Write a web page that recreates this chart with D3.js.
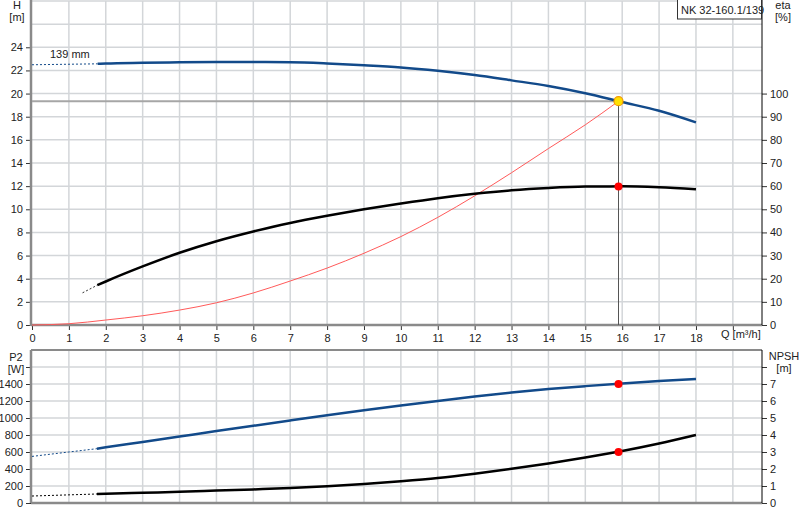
<!DOCTYPE html>
<html>
<head>
<meta charset="utf-8">
<script src="https://cdn.jsdelivr.net/npm/d3@7"></script>
<style>
    body{margin:0;background:#fff;}
    svg{display:block;font-family:"Liberation Sans",Arial,sans-serif;font-size:11px;}
    .grid line{stroke:#d3d6d9;stroke-width:1.5;}
</style>
</head>
<body>
<div id="chart"></div>
<script>
// 数据：流量 Q [m³/h]
var qTicks = [0,1,2,3,4,5,6,7,8,9,10,11,12,13,14,15,16,17,18];
var hTicks = [0,2,4,6,8,10,12,14,16,18,20,22,24];
var etaTicks = [0,10,20,30,40,50,60,70,80,90,100];
var p2Ticks = [0,200,400,600,800,1000,1200,1400];
var npshTicks = [0,1,2,3,4,5,6,7];

// 扬程曲线 H
var headFlow = [1.78,2,3,4,5,6,7,8,9,10,11,12,13,14,15,16,17,18];
var headValues = [22.57,22.6,22.66,22.7,22.72,22.72,22.7,22.6,22.45,22.26,21.97,21.6,21.14,20.66,20.03,19.27,18.51,17.51];
var headExtFlow = [0,1.78];
var headExtValues = [22.49,22.57];

// 效率曲线 eta
var etaFlow = [1.77,2,3,4,5,6,7,8,9,10,11,12,13,14,15,16,17,18];
var etaValues = [17.2,18.8,25.3,31.2,36.2,40.4,44.1,47.2,50.0,52.5,54.8,56.7,58.2,59.2,59.8,59.9,59.5,58.7];
var etaExtFlow = [1.37,1.77];
var etaExtValues = [13.9,17.2];

// 系统曲线
var systemFlow = [0,1,2,3,4,5,6,7,8,9,10,11,12,13,14,15,15.9];
var systemValues = [0,0.11,0.43,0.8,1.29,1.92,2.77,3.8,4.92,6.2,7.64,9.3,11.16,13.16,15.25,17.3,19.34];

// 功率 P2
var p2Flow = [1.76,2,3,4,5,6,7,8,9,10,11,12,13,14,15,16,17,18];
var p2Values = [639,655,718,782,846,909,971,1032,1091,1147,1201,1252,1299,1340,1375,1407,1435,1460];
var p2ExtFlow = [0,1,1.76];
var p2ExtValues = [548,600,639];

// NPSH
var npshFlow = [1.76,2,3,4,5,6,7,8,9,10,11,12,13,14,15,16,17,18];
var npshValues = [0.53,0.54,0.6,0.66,0.73,0.8,0.88,0.99,1.12,1.28,1.47,1.72,2.01,2.33,2.68,3.06,3.5,4.0];
var npshExtFlow = [0,1.76];
var npshExtValues = [0.41,0.53];

// 工作点
var opFlow = 15.9;
var opHead = 19.34;
var opEta = 59.8;
var opP2 = 1400;
var opNpsh = 3.0;

var width = 800, height = 520;
var left = 32, right = 762;
var top1 = 1, bottom1 = 325;
var top2 = 350, bottom2 = 503;
var blue = '#124a8a';

var svg = d3.select('#chart').append('svg')
    .attr('width', width)
    .attr('height', height);

var x = d3.scaleLinear().domain([0, 19.79]).range([left, right]);
var yH = d3.scaleLinear().domain([0, 28]).range([bottom1, top1]);
var yEta = d3.scaleLinear().domain([0, 140]).range([bottom1, top1]);
var yP2 = d3.scaleLinear().domain([0, 1800]).range([bottom2, top2]);
var yNpsh = d3.scaleLinear().domain([0, 9]).range([bottom2, top2]);

function pairs(xs, ys){
    return xs.map(function(d, i){ return [d, ys[i]]; });
}

//网格
function grid(yScale, yVals, y0, y1){
    var g = svg.append('g').classed('grid', true);
    g.selectAll('line.v').data(d3.range(1, 20)).enter().append('line')
        .attr('x1', function(d){ return x(d); })
        .attr('x2', function(d){ return x(d); })
        .attr('y1', y0).attr('y2', y1);
    g.selectAll('line.h').data(yVals).enter().append('line')
        .attr('x1', left).attr('x2', right)
        .attr('y1', function(d){ return yScale(d); })
        .attr('y2', function(d){ return yScale(d); });
}
grid(yH, d3.range(2, 29, 2), top1, bottom1);
grid(yP2, d3.range(200, 1801, 200), top2, bottom2);

//坐标轴
function axis(gen, tx, ty){
    var g = svg.append('g').attr('transform', 'translate(' + tx + ',' + ty + ')').call(gen);
    g.select('.domain').remove();
    g.selectAll('.tick line').attr('stroke', '#333');
    g.selectAll('.tick text').attr('fill', '#222')
        .style('font-family', '"Liberation Sans",Arial,sans-serif').style('font-size', '11px');
    return g;
}
axis(d3.axisLeft(yH).tickValues(hTicks).tickSize(5).tickPadding(3), left - 1, 0);
axis(d3.axisRight(yEta).tickValues(etaTicks).tickSize(5).tickPadding(3), right, 0);
axis(d3.axisBottom(x).tickValues(qTicks.concat([19])).tickSize(5).tickPadding(4)
    .tickFormat(function(d){ return d === 19 ? '' : d; }), 0, bottom1);
axis(d3.axisLeft(yP2).tickValues(p2Ticks.concat([1600])).tickSize(5).tickPadding(3)
    .tickFormat(function(d){ return d === 1600 ? '' : d; }), left - 1, 0);
axis(d3.axisRight(yNpsh).tickValues(npshTicks.concat([8])).tickSize(5).tickPadding(3)
    .tickFormat(function(d){ return d === 8 ? '' : d; }), right, 0);

//轴线
function rule(x1, y1, x2, y2, color, w){
    svg.append('line').attr('x1', x1).attr('y1', y1).attr('x2', x2).attr('y2', y2)
        .attr('stroke', color).attr('stroke-width', w);
}
rule(left - 1, 0, left - 1, bottom1 + 1, '#8a8a8a', 2.5);
rule(left - 1, bottom1, right, bottom1, '#8a8a8a', 2.5);
rule(right, 0, right, bottom1, '#000', 1);
rule(left - 1, top2, right, top2, '#8a8a8a', 2);
rule(left - 1, top2, left - 1, bottom2, '#8a8a8a', 2.5);
rule(left - 1, bottom2, right, bottom2, '#8a8a8a', 2.5);
rule(right, top2, right, bottom2, '#000', 1);

//工作点辅助线
rule(left, yH(opHead), x(opFlow), yH(opHead), '#a6a6a6', 2);
rule(x(opFlow), yH(opHead), x(opFlow), bottom1, '#555', 1);

//曲线
function curve(xs, ys, yScale, color, w, dash){
    var line = d3.line()
        .x(function(d){ return x(d[0]); })
        .y(function(d){ return yScale(d[1]); })
        .curve(d3.curveMonotoneX);
    svg.append('path').datum(pairs(xs, ys))
        .attr('d', line)
        .attr('fill', 'none')
        .attr('stroke', color)
        .attr('stroke-width', w)
        .attr('stroke-dasharray', dash || null);
}
curve(systemFlow, systemValues, yH, '#ff5a5a', 1);
curve(headExtFlow, headExtValues, yH, blue, 1, '2,2');
curve(headFlow, headValues, yH, blue, 2.5);
curve(etaExtFlow, etaExtValues, yEta, '#333', 1, '2,2');
curve(etaFlow, etaValues, yEta, '#000', 2.5);
curve(p2ExtFlow, p2ExtValues, yP2, blue, 1, '2,2');
curve(p2Flow, p2Values, yP2, blue, 2.5);
curve(npshExtFlow, npshExtValues, yNpsh, '#000', 1, '2,2');
curve(npshFlow, npshValues, yNpsh, '#000', 2.5);

//工作点标记
svg.append('circle').attr('cx', x(opFlow)).attr('cy', yH(opHead)).attr('r', 4.5)
    .attr('fill', '#ffe000').attr('stroke', '#f29a00').attr('stroke-width', 1.2);
svg.append('circle').attr('cx', x(opFlow)).attr('cy', yEta(opEta)).attr('r', 4).attr('fill', '#ff0000');
svg.append('circle').attr('cx', x(opFlow)).attr('cy', yP2(opP2)).attr('r', 4).attr('fill', '#ff0000');
svg.append('circle').attr('cx', x(opFlow)).attr('cy', yNpsh(opNpsh)).attr('r', 4).attr('fill', '#ff0000');

//文字
function text(tx, ty, s, anchor){
    svg.append('text').attr('x', tx).attr('y', ty).attr('text-anchor', anchor || 'start')
        .attr('fill', '#222').text(s);
}
text(17, 9, 'H', 'middle');
text(17, 21, '[m]', 'middle');
text(783, 9, 'eta', 'middle');
text(783, 21, '[%]', 'middle');
text(16, 361, 'P2', 'middle');
text(16, 373, '[W]', 'middle');
text(784, 360, 'NPSH', 'middle');
text(784, 372, '[m]', 'middle');
text(721, 338, 'Q [m\u00b3/h]');
text(50, 58, '139 mm');

svg.append('rect').attr('x', 677.5).attr('y', -1).attr('width', 84).attr('height', 20)
    .attr('fill', '#fff').attr('stroke', '#333').attr('stroke-width', 1);
text(681, 14, 'NK 32-160.1/139');
</script>
</body>
</html>
